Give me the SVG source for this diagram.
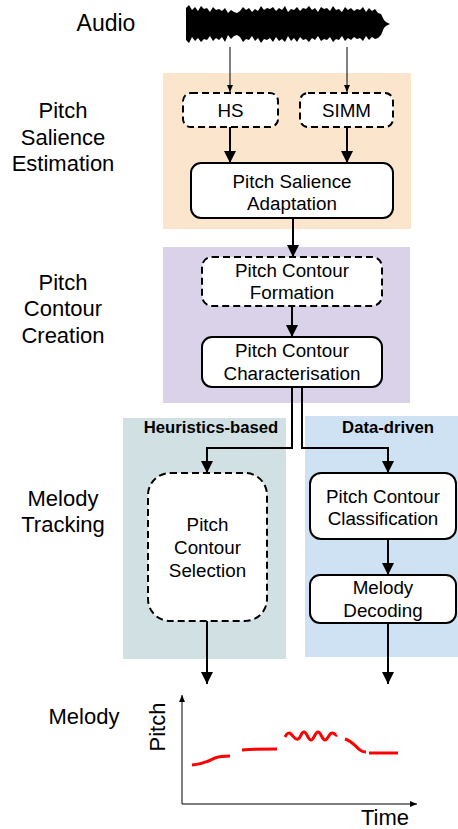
<svg xmlns="http://www.w3.org/2000/svg" width="458" height="829" viewBox="0 0 458 829">
<defs>
<style>
.lbl{font-family:"Liberation Sans",Arial,sans-serif;font-size:22px;fill:#000;text-anchor:middle}
.bt{font-family:"Liberation Sans",Arial,sans-serif;font-size:18.8px;fill:#000;text-anchor:middle}
.hd{font-family:"Liberation Sans",Arial,sans-serif;font-size:16.7px;font-weight:bold;fill:#000;text-anchor:middle}
.box{fill:#fff;stroke:#000;stroke-width:2}
.dash{stroke-dasharray:7 4}
.thick{fill:none;stroke:#000;stroke-width:2;marker-end:url(#ah)}
.thin{fill:none;stroke:#000;stroke-width:1;marker-end:url(#as)}
.red{fill:none;stroke:#f00;stroke-width:3;stroke-linecap:butt}
</style>
<marker id="ah" markerUnits="userSpaceOnUse" markerWidth="12" markerHeight="14" refX="12" refY="6" orient="auto">
<path d="M0,0 L12,6 L0,12 z" fill="#000"/>
</marker>
<marker id="as" markerUnits="userSpaceOnUse" markerWidth="8" markerHeight="8" refX="7" refY="3" orient="auto">
<path d="M0,0 L7,3 L0,6 z" fill="#000"/>
</marker>
</defs>
<rect width="458" height="829" fill="#fff"/>

<g id="panels">
<rect x="163" y="73" width="248" height="156" fill="#fce5cd"/>
<rect x="163" y="247" width="247" height="156" fill="#d9d2e9"/>
<rect x="123" y="418" width="163" height="241" fill="#d0e0e3"/>
<rect x="305" y="416" width="153" height="241" fill="#cfe2f3"/>
<text class="hd" x="211" y="433">Heuristics-based</text>
<text class="hd" x="388" y="433">Data-driven</text>
</g>

<g id="labels">
<text class="lbl" x="106" y="31" style="font-size:23px">Audio</text>
<text class="lbl" x="63" y="118">Pitch</text>
<text class="lbl" x="63" y="145">Salience</text>
<text class="lbl" x="63" y="171">Estimation</text>
<text class="lbl" x="63" y="290">Pitch</text>
<text class="lbl" x="63" y="316">Contour</text>
<text class="lbl" x="63" y="343">Creation</text>
<text class="lbl" x="63" y="506">Melody</text>
<text class="lbl" x="63" y="532">Tracking</text>
<text class="lbl" x="84" y="724">Melody</text>
</g>

<g id="audio">
<path fill="#000" d="M186,8 L189,5 L192,10 L195,7 L198,11 L201,6 L204,9 L207,8 L210,12 L213,7 L216,10 L219,9 L222,11 L225,8 L228,13 L231,10 L234,12 L237,13 L240,11 L243,7 L246,10 L249,8 L252,12 L255,9 L258,11 L261,6 L264,10 L267,8 L270,9 L273,7 L276,11 L279,8 L282,10 L285,6 L288,12 L291,9 L294,10 L297,7 L300,11 L303,8 L306,9 L309,6 L312,10 L315,8 L318,12 L321,7 L324,9 L327,8 L330,11 L333,6 L336,10 L339,9 L342,12 L345,7 L348,10 L351,8 L354,11 L357,9 L360,10 L363,7 L366,12 L369,8 L372,11 L375,9 L378,13 L381,14 L384,20 L386,22 L390,24 L386,26 L384,28 L381,35 L378,38 L375,39 L372,37 L369,40 L366,36 L363,41 L360,38 L357,39 L354,37 L351,40 L348,38 L345,41 L342,36 L339,40 L336,39 L333,42 L330,37 L327,40 L324,39 L321,41 L318,36 L315,40 L312,38 L309,42 L306,39 L303,40 L300,37 L297,42 L294,38 L291,41 L288,36 L285,42 L282,39 L279,41 L276,37 L273,42 L270,38 L267,40 L264,39 L261,43 L258,38 L255,41 L252,36 L249,40 L246,39 L243,42 L240,37 L237,35 L234,36 L231,39 L228,35 L225,42 L222,37 L219,40 L216,38 L213,41 L210,36 L207,40 L204,39 L201,42 L198,38 L195,41 L192,37 L189,43 L186,40 z"/>
</g>

<g id="hs"><rect class="box dash" x="183" y="93" width="95" height="34" rx="8"/><text class="bt" x="230.5" y="117">HS</text></g>
<g id="simm"><rect class="box dash" x="300" y="93" width="93" height="34" rx="8"/><text class="bt" x="346.5" y="117">SIMM</text></g>
<g id="psa"><rect class="box" x="191" y="163" width="202" height="55" rx="10"/><text class="bt" x="292" y="188">Pitch Salience</text><text class="bt" x="292" y="210">Adaptation</text></g>
<g id="pcf"><rect class="box dash" x="202" y="257" width="180" height="49" rx="10"/><text class="bt" x="292" y="277">Pitch Contour</text><text class="bt" x="292" y="299">Formation</text></g>
<g id="pcc"><rect class="box" x="202" y="337" width="180" height="50" rx="10"/><text class="bt" x="292" y="357">Pitch Contour</text><text class="bt" x="292" y="380">Characterisation</text></g>
<g id="pcs"><rect class="box dash" x="148" y="473" width="119" height="148" rx="22"/><text class="bt" x="207.5" y="531">Pitch</text><text class="bt" x="207.5" y="554">Contour</text><text class="bt" x="207.5" y="577">Selection</text></g>
<g id="pccl"><rect class="box" x="310" y="473" width="146" height="66" rx="11"/><text class="bt" x="383" y="503">Pitch Contour</text><text class="bt" x="383" y="525">Classification</text></g>
<g id="md"><rect class="box" x="310" y="575" width="146" height="48" rx="10"/><text class="bt" x="383" y="594">Melody</text><text class="bt" x="383" y="617">Decoding</text></g>

<g id="connectors">
<path class="thin" d="M230,47 V92"/>
<path class="thin" d="M347,47 V92"/>
<path class="thick" d="M230,127 V163"/>
<path class="thick" d="M347,127 V163"/>
<path class="thick" d="M293,218 V257"/>
<path class="thick" d="M292,306 V337"/>
<path class="thick" d="M292,387 V448 H207 V473"/>
<path class="thick" d="M302,387 V448 H388 V473"/>
<path class="thick" d="M388,539 V575"/>
<path class="thick" d="M207,621 V684"/>
<path class="thick" d="M388,623 V684"/>
</g>

<g id="melody-plot">
<path class="thin" d="M182,804 V695"/>
<path class="thin" d="M182,804 H417"/>
<text class="lbl" transform="translate(165,727) rotate(-90)">Pitch</text>
<text class="lbl" x="385" y="825">Time</text>
<path class="red" d="M192,765 C205,764 210,760 215,758 C220,756 225,756 230,756"/>
<path class="red" d="M242,750 C255,749 265,749 277,749"/>
<path class="red" d="M285,737 C287,733 289,732 291,734 C294,737 295,740 298,739 C301,738 301,732 304,732 C307,732 308,740 311,740 C314,740 315,732 318,732 C321,732 322,740 325,740 C328,740 329,733 332,733 C335,733 336,736 337,735"/>
<path class="red" d="M345,739 C352,741 356,747 360,750 C362,752 364,752 366,752"/>
<path class="red" d="M369,753 H398"/>
</g>
</svg>
